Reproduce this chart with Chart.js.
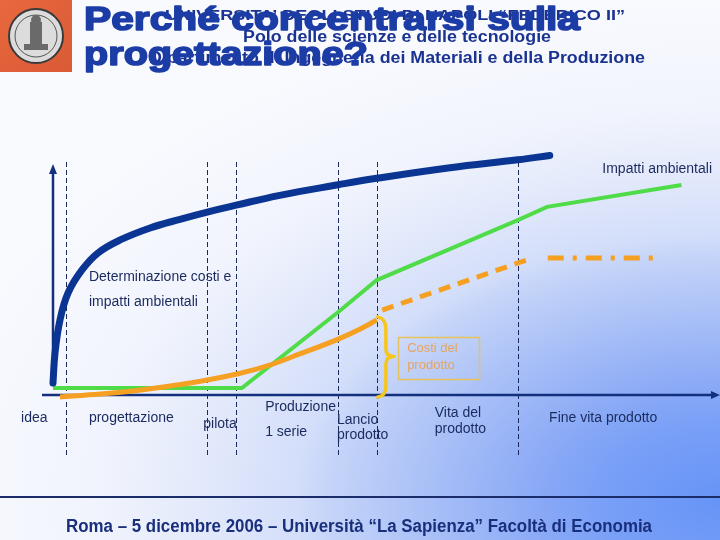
<!DOCTYPE html>
<html><head><meta charset="utf-8">
<script src="https://cdn.jsdelivr.net/npm/chart.js@4.4.1/dist/chart.umd.min.js"></script>
<style>html,body{margin:0;padding:0;background:#fff}canvas{display:block}</style>
</head><body>
<canvas id="c" width="720" height="540"></canvas>
<script>
// ---- data (conceptual units: x = time 0..100, y = level 0..100) ----
const determinazioneX = [0, 0.3, 1.05, 2.26, 4.36, 6.77, 10.1, 14.6, 19.1, 23.2, 27.7, 34.1, 42.9, 48.7, 59.7, 69.9, 74.7];
const determinazioneY = [5, 17.5, 31.25, 42.5, 52.1, 59.2, 64.6, 69.6, 73.2, 76.2, 79.2, 83.2, 87.6, 90.3, 94.7, 98, 99.8];
const impattiX = [0, 28.4, 42.9, 48.7, 69.9, 74.3, 94.5];
const impattiY = [2.9, 2.9, 34.6, 47.9, 72.9, 78.4, 87.5];
const costiX = [1.05, 7.1, 12, 17.6, 23.2, 27.7, 32.2, 37.1, 42.9, 46.2, 48.7];
const costiY = [-0.8, 0.4, 1.7, 3.75, 6.25, 8.75, 12.1, 17.1, 23.3, 27.5, 31.3];
const costiVitaX = [49.5, 69.9, 72.2];
const costiVitaY = [35.4, 55, 57.1];
const costiFineX = [74.4, 91];
const costiFineY = [57.1, 57.1];
const phaseBounds = [1.95, 23.2, 27.5, 42.9, 48.7, 69.9];
const phaseLabels = [["idea"], ["progettazione"], ["pilota"], ["Produzione", "1 serie"], ["Lancio", "prodotto"], ["Vita del", "prodotto"], ["Fine vita prodotto"]];
const curveLabel = ["Determinazione costi e", "impatti ambientali"];
const impattiLabel = "Impatti ambientali";
const costiLabel = ["Costi del", "prodotto"];
const titleLines = ["Perché concentrarsi sulla", "progettazione?"];
const headerLines = ["UNIVERSITA’ DEGLI STUDI DI NAPOLI “FEDERICO II”", "Polo delle scienze e delle tecnologie", "Dipartimento di Ingegneria dei Materiali e della Produzione"];
const footerText = "Roma – 5 dicembre 2006 – Università “La Sapienza” Facoltà di Economia";

// ---- layout (positions/styles) ----
const LAB = {
  phaseX: [-4.8, 5.4, 22.6, 31.9, 42.7, 57.4, 74.6],
  phaseY: [[418], [418], [424], [407, 432], [420, 435], [413, 429], [418]],
  curveX: 5.4, curveY: [49.2, 38.75],
  impX: 82.6, impY: 94.2,
  box: [51.9, 24.2, 64.1, 6.7]
};
const NAVY = '#1a2a5e';
const FONT = '"Liberation Sans", Arial, sans-serif';

function pts(xs, ys) { return xs.map((x, i) => ({x: x, y: ys[i]})); }

function fitText(ctx, text, x, y, width) {
  const w = ctx.measureText(text).width;
  ctx.save();
  ctx.translate(x, y);
  ctx.scale(width / w, 1);
  ctx.textAlign = 'left';
  ctx.fillText(text, 0, 0);
  ctx.restore();
}

const bgPlugin = {
  id: 'bg',
  beforeDraw(chart) {
    const ctx = chart.ctx;
    ctx.save();
    ctx.fillStyle = '#f9fafe';
    ctx.fillRect(0, 0, 720, 540);
    ctx.translate(720, 500);
    ctx.scale(1, 1 / 1.6);
    const g = ctx.createRadialGradient(0, 0, 0, 0, 0, 800);
    g.addColorStop(0, '#6694f7');
    g.addColorStop(0.155, '#7aa0f7');
    g.addColorStop(0.22, '#88a8f6');
    g.addColorStop(0.49, '#c5d4f8');
    g.addColorStop(0.53, '#d3defa');
    g.addColorStop(0.66, '#e4eafb');
    g.addColorStop(0.78, '#f1f4fd');
    g.addColorStop(0.97, '#f8f9fe');
    g.addColorStop(1, '#f9fafe');
    ctx.fillStyle = g;
    ctx.fillRect(-800, -900, 1600, 1800);
    ctx.restore();

    // logo
    ctx.save();
    const lg = ctx.createLinearGradient(0, 0, 72, 72);
    lg.addColorStop(0, '#e8693f');
    lg.addColorStop(1, '#d95a34');
    ctx.fillStyle = lg;
    ctx.fillRect(0, 0, 72, 72);
    ctx.beginPath(); ctx.arc(36, 36, 27, 0, Math.PI * 2);
    ctx.fillStyle = '#dcdcdc'; ctx.fill();
    ctx.lineWidth = 2; ctx.strokeStyle = '#3a3a3a'; ctx.stroke();
    ctx.beginPath(); ctx.arc(36, 36, 21, 0, Math.PI * 2);
    ctx.lineWidth = 1; ctx.strokeStyle = '#555'; ctx.stroke();
    ctx.fillStyle = '#6a6a6a';
    ctx.fillRect(30, 22, 12, 26);
    ctx.beginPath(); ctx.arc(36, 20, 5, 0, Math.PI * 2); ctx.fill();
    ctx.fillRect(24, 44, 24, 6);
    ctx.restore();
  }
};

const axesPlugin = {
  id: 'axesDeco',
  beforeDatasetsDraw(chart) {
    const ctx = chart.ctx, xs = chart.scales.x, ys = chart.scales.y;
    ctx.save();
    // dashed phase lines
    ctx.strokeStyle = NAVY; ctx.lineWidth = 1; ctx.setLineDash([5, 3]);
    phaseBounds.forEach(v => {
      const px = Math.round(xs.getPixelForValue(v)) + 0.5;
      ctx.beginPath(); ctx.moveTo(px, 162); ctx.lineTo(px, 458); ctx.stroke();
    });
    ctx.setLineDash([]);
    // axes
    const x0 = xs.getPixelForValue(0), y0 = ys.getPixelForValue(0);
    ctx.strokeStyle = '#13307e'; ctx.fillStyle = '#13307e'; ctx.lineWidth = 2.5;
    ctx.beginPath(); ctx.moveTo(42, y0); ctx.lineTo(712, y0); ctx.stroke();
    ctx.beginPath(); ctx.moveTo(720, y0); ctx.lineTo(711, y0 - 4); ctx.lineTo(711, y0 + 4); ctx.closePath(); ctx.fill();
    ctx.beginPath(); ctx.moveTo(x0, y0 - 12); ctx.lineTo(x0, 172); ctx.stroke();
    ctx.beginPath(); ctx.moveTo(x0, 164); ctx.lineTo(x0 - 4, 174); ctx.lineTo(x0 + 4, 174); ctx.closePath(); ctx.fill();
    ctx.restore();
  }
};

const labelPlugin = {
  id: 'labels',
  afterDatasetsDraw(chart) {
    const ctx = chart.ctx, xs = chart.scales.x, ys = chart.scales.y;
    ctx.save();
    // brace
    const bx = xs.getPixelForValue(phaseBounds[4]) + 3;
    const bt = ys.getPixelForValue(costiY[costiY.length - 1]) - 3;
    const bb = ys.getPixelForValue(0) + 1;
    const bm = (bt + bb) / 2;
    ctx.strokeStyle = '#f6c61e'; ctx.lineWidth = 3.5; ctx.lineCap = 'round'; ctx.lineJoin = 'round';
    ctx.beginPath();
    ctx.moveTo(bx - 2, bt);
    ctx.quadraticCurveTo(bx + 6, bt + 2, bx + 6, bt + 12);
    ctx.lineTo(bx + 6, bm - 8);
    ctx.quadraticCurveTo(bx + 6, bm, bx + 14, bm);
    ctx.quadraticCurveTo(bx + 6, bm, bx + 6, bm + 8);
    ctx.lineTo(bx + 6, bb - 10);
    ctx.quadraticCurveTo(bx + 6, bb, bx - 2, bb + 1);
    ctx.stroke();
    // box
    const b = LAB.box;
    const l = xs.getPixelForValue(b[0]), t = ys.getPixelForValue(b[1]), r = xs.getPixelForValue(b[2]), bo = ys.getPixelForValue(b[3]);
    ctx.strokeStyle = '#e6c25a'; ctx.lineWidth = 1.5;
    ctx.strokeRect(Math.round(l) + 0.5, Math.round(t) + 0.5, Math.round(r - l), Math.round(bo - t));
    ctx.fillStyle = '#e8a45c'; ctx.font = '13px ' + FONT; ctx.textBaseline = 'middle'; ctx.textAlign = 'left';
    ctx.fillText(costiLabel[0], l + 9, t + 12);
    ctx.fillText(costiLabel[1], l + 9, t + 29);
    // texts
    ctx.fillStyle = NAVY; ctx.font = '14px ' + FONT;
    ctx.fillText(curveLabel[0], xs.getPixelForValue(LAB.curveX), ys.getPixelForValue(LAB.curveY[0]));
    ctx.fillText(curveLabel[1], xs.getPixelForValue(LAB.curveX), ys.getPixelForValue(LAB.curveY[1]));
    ctx.fillText(impattiLabel, xs.getPixelForValue(LAB.impX), ys.getPixelForValue(LAB.impY));
    phaseLabels.forEach((lines, i) => {
      lines.forEach((s, j) => ctx.fillText(s, xs.getPixelForValue(LAB.phaseX[i]), LAB.phaseY[i][j]));
    });
    // separator & footer
    ctx.strokeStyle = '#1a2c6a'; ctx.lineWidth = 2;
    ctx.beginPath(); ctx.moveTo(0, 497); ctx.lineTo(720, 497); ctx.stroke();
    ctx.fillStyle = '#1a2f7c'; ctx.font = 'bold 18px ' + FONT; ctx.textBaseline = 'alphabetic';
    fitText(ctx, footerText, 66, 532, 586);
    ctx.restore();
  },
  afterDraw(chart) {
    const ctx = chart.ctx;
    ctx.save();
    ctx.textBaseline = 'alphabetic';
    // header
    ctx.fillStyle = '#1b3390';
    ctx.font = 'bold 15px ' + FONT;
    fitText(ctx, headerLines[0], 165, 20, 460);
    ctx.font = 'bold 16px ' + FONT;
    fitText(ctx, headerLines[1], 243, 42, 308);
    fitText(ctx, headerLines[2], 149, 63, 496);
    // title
    ctx.fillStyle = '#1c3ca6'; ctx.strokeStyle = '#1c3ca6'; ctx.lineWidth = 1.6; ctx.lineJoin = 'round';
    ctx.font = 'bold 33px ' + FONT;
    [[titleLines[0], 84, 30, 496], [titleLines[1], 84, 65, 284]].forEach(t => {
      const w = ctx.measureText(t[0]).width;
      ctx.save(); ctx.translate(t[1], t[2]); ctx.scale(t[3] / w, 1);
      ctx.fillText(t[0], 0, 0); ctx.strokeText(t[0], 0, 0);
      ctx.restore();
    });
    ctx.restore();
  }
};

new Chart(document.getElementById('c'), {
  type: 'line',
  data: {
    datasets: [
      {data: pts(determinazioneX, determinazioneY), borderColor: '#0b3592', borderWidth: 7, tension: 0.4, borderCapStyle: 'round', borderJoinStyle: 'round'},
      {data: pts(costiX, costiY), borderColor: '#f5a023', borderWidth: 5, cubicInterpolationMode: 'monotone'},
      {data: pts(impattiX, impattiY), borderColor: '#4fdc48', borderWidth: 4, tension: 0},
      {data: pts(costiVitaX, costiVitaY), borderColor: '#f5a023', borderWidth: 5, tension: 0, borderDash: [12, 8]},
      {data: pts(costiFineX, costiFineY), borderColor: '#f5a023', borderWidth: 5, tension: 0, borderDash: [16, 9, 4, 9]}
    ]
  },
  options: {
    responsive: false,
    animation: false,
    devicePixelRatio: 1,
    layout: {padding: {left: 53, right: 2, top: 155, bottom: 145}},
    elements: {point: {radius: 0}, line: {fill: false}},
    datasets: {line: {clip: false}},
    plugins: {legend: {display: false}, tooltip: {enabled: false}},
    scales: {
      x: {type: 'linear', min: 0, max: 100, display: false},
      y: {type: 'linear', min: 0, max: 100, display: false}
    }
  },
  plugins: [bgPlugin, axesPlugin, labelPlugin]
});
</script>
</body></html>
